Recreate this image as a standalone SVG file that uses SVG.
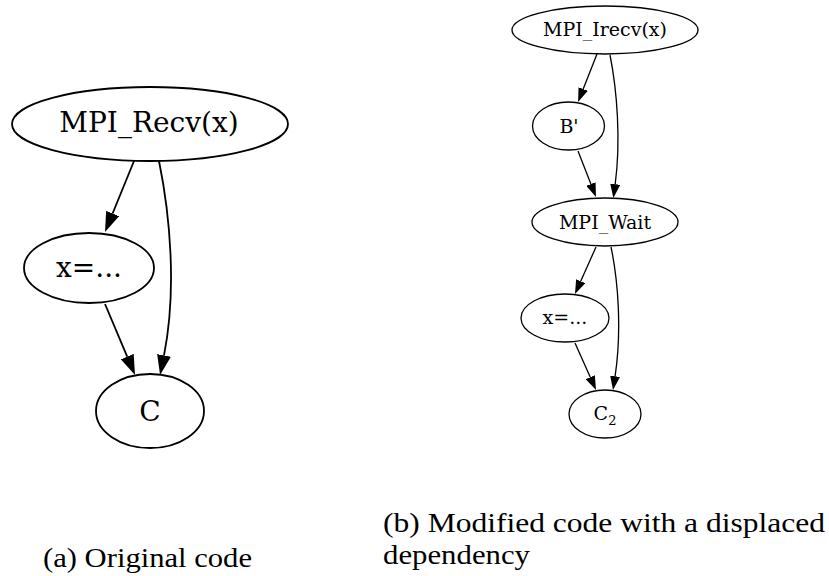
<svg xmlns="http://www.w3.org/2000/svg" width="829" height="576" viewBox="0 0 829 576">
<style>
.nL ellipse{fill:none;stroke:#000;stroke-width:1.8}
.nR ellipse{fill:none;stroke:#000;stroke-width:1.3}
.nL text{font-family:"DejaVu Serif",serif;font-size:28px;text-anchor:middle;fill:#000}
.nR text{font-family:"DejaVu Serif",serif;font-size:19px;text-anchor:middle;fill:#000}
.eL{fill:none;stroke:#000;stroke-width:1.8;marker-end:url(#aL)}
.eR{fill:none;stroke:#000;stroke-width:1.3;marker-end:url(#aR)}
.cap{font-family:"Liberation Serif","Times New Roman",serif;font-size:28px;fill:#000}
</style>
<defs>
<marker id="aL" markerUnits="userSpaceOnUse" viewBox="0 0 20 14" markerWidth="20" markerHeight="14" refX="0" refY="7" orient="auto">
<path d="M0,0 L20,7 L0,14 z" fill="#000"/>
</marker>
<marker id="aR" markerUnits="userSpaceOnUse" viewBox="0 0 14 10" markerWidth="14" markerHeight="10" refX="0" refY="5" orient="auto">
<path d="M0,0 L14,5 L0,10 z" fill="#000"/>
</marker>
</defs>
<rect width="829" height="576" fill="#fff"/>
<g id="edges">
<path class="eL" d="M134,161 L112.6,213.5"/>
<path class="eL" d="M159,161 C170,215 177,290 164,355.4"/>
<path class="eL" d="M105,304 L127.2,356.6"/>
<path class="eR" d="M597,54 L583.2,89"/>
<path class="eR" d="M610,55 C617,90 621,140 615.2,184.2"/>
<path class="eR" d="M578,151 L590.9,184"/>
<path class="eR" d="M596,247 L580.7,281.2"/>
<path class="eR" d="M611,247 C618,280 622,330 615.1,376.2"/>
<path class="eR" d="M575,343 L590.3,377.2"/>
</g>
<g id="recv" class="nL"><ellipse cx="150" cy="124" rx="138" ry="37"/><text x="149" y="132">MPI_Recv(x)</text></g>
<g id="xassign_a" class="nL"><ellipse cx="89" cy="268" rx="65" ry="35"/><text x="89" y="277">x=...</text></g>
<g id="c_a" class="nL"><ellipse cx="150" cy="411" rx="54" ry="37"/><text x="150" y="421">C</text></g>
<g id="irecv" class="nR"><ellipse cx="605" cy="30" rx="93" ry="24"/><text x="605" y="36">MPI_Irecv(x)</text></g>
<g id="bprime" class="nR"><ellipse cx="568.5" cy="126" rx="36" ry="24"/><text x="569" y="133">B'</text></g>
<g id="wait" class="nR"><ellipse cx="605" cy="222" rx="73" ry="24"/><text x="605" y="229">MPI_Wait</text></g>
<g id="xassign_b" class="nR"><ellipse cx="565" cy="318" rx="44" ry="24"/><text x="565" y="324">x=...</text></g>
<g id="c2" class="nR"><ellipse cx="605" cy="414" rx="36" ry="24"/><text x="605" y="420">C<tspan font-size="13" dy="5">2</tspan></text></g>
<text class="cap" x="43" y="567" textLength="209" lengthAdjust="spacingAndGlyphs">(a) Original code</text>
<text class="cap" x="383" y="532" textLength="442" lengthAdjust="spacingAndGlyphs">(b) Modified code with a displaced</text>
<text class="cap" x="383" y="564" textLength="147" lengthAdjust="spacingAndGlyphs">dependency</text>
</svg>
